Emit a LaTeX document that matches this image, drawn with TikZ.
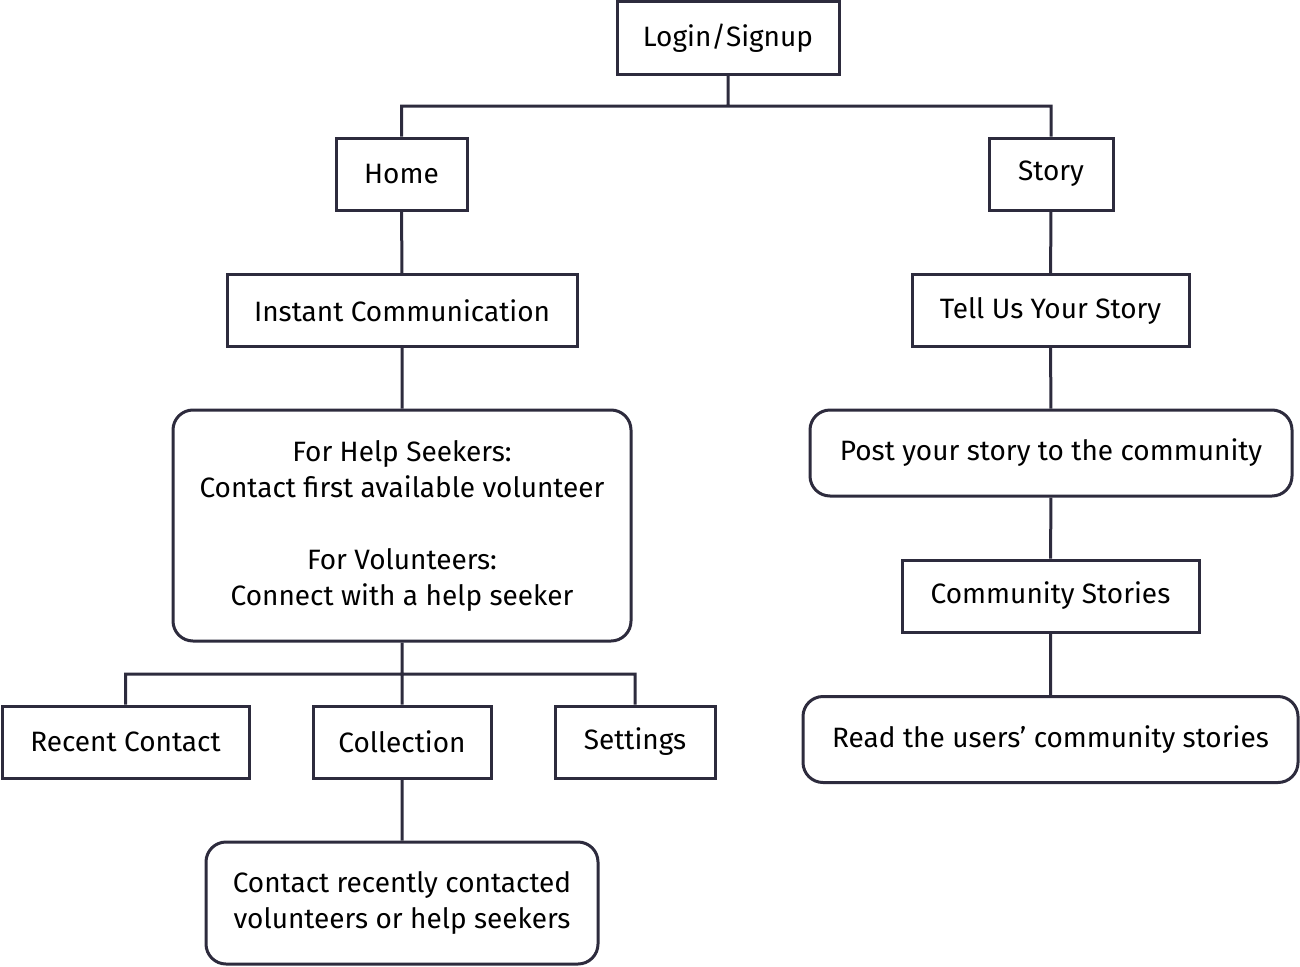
\documentclass[tikz,border=0pt]{standalone}
\usepackage{fontspec}
\setmainfont{Fira Sans}
\usepackage{tikz}

\definecolor{navy}{HTML}{2D2B3D}

\begin{document}
\begin{tikzpicture}[x=1pt, y=-1pt, line width=3pt, draw=navy,
            box/.style={rectangle, draw=navy, fill=white, minimum height=72pt,
                inner sep=0pt, align=center, font=\fontsize{28}{36}\selectfont},
            round box/.style={box, rounded corners=20pt, minimum height=86pt}]

        \useasboundingbox (0,0) rectangle (1300,966);

        % left branch
        \node[box, minimum width=222pt] (login) at (728,38) {Login/Signup};
        \node[box, minimum width=131pt] (home) at (401.5,174) {Home};
        \node[box, minimum width=350pt] (instant) at (402,310.5) {Instant Communication};
        \node[round box, minimum width=458pt, minimum height=231pt] (seekers) at (402,525.5) {For Help Seekers:\\
            Contact first available volunteer\\[36pt]
            For Volunteers:\\
            Connect with a help seeker};
        \node[box, minimum width=247pt] (recent) at (125.5,742) {Recent Contact};
        \node[box, minimum width=178pt] (collection) at (402,742) {Collection};
        \node[box, minimum width=160pt] (settings) at (635,742) {Settings};
        \node[round box, minimum width=392pt, minimum height=122pt] (contacted) at (402,903) {Contact recently contacted\\
            volunteers or help seekers};

        % right branch
        \node[box, minimum width=124pt] (story) at (1051,174) {Story};
        \node[box, minimum width=277pt] (tell) at (1050.5,310.5) {Tell Us Your Story};
        \node[round box, minimum width=482pt] (post) at (1051,453) {Post your story to the community};
        \node[box, minimum width=297pt] (community) at (1050.5,596) {Community Stories};
        \node[round box, minimum width=495pt] (read) at (1050.5,739.5) {Read the users’ community stories};

        \coordinate (top split) at (728,106);
        \coordinate (bottom split) at (402,674);

        \path[draw=navy]
        (login) -- (top split)
        (top split) -| (home)
        (top split) -| (story)
        (home) -- (instant)
        (instant) -- (seekers)
        (seekers) -- (collection)
        (bottom split) -| (recent)
        (bottom split) -| (settings)
        (collection) -- (contacted)
        (story) -- (tell)
        (tell) -- (post)
        (post) -- (community)
        (community) -- (read);
        \end{tikzpicture}
\end{document}
